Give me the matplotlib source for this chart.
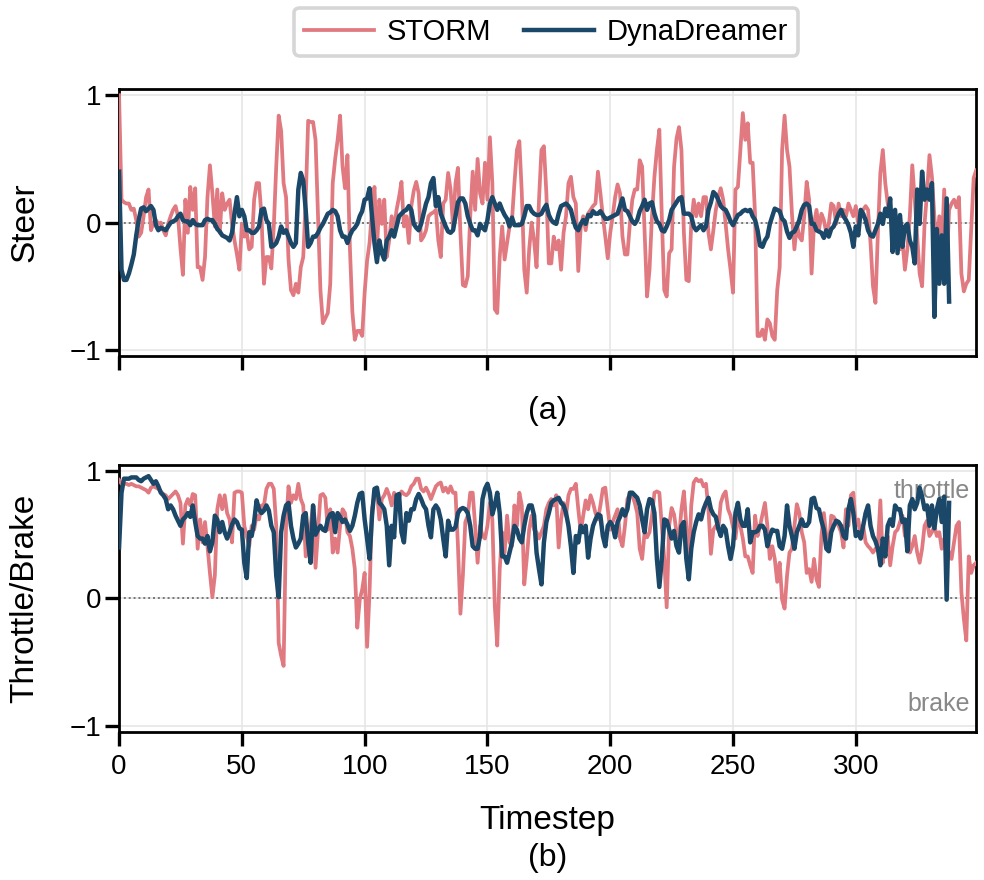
import numpy as np
import matplotlib
matplotlib.use("Agg")
import matplotlib.pyplot as plt

plt.rcParams['font.family'] = ['Liberation Sans', 'DejaVu Sans']

storm_color = '#e07a80'
dyna_color = '#1b4868'

# steering, STORM (timesteps 0..349)
storm_steer = [
    1.00, 0.18, 0.16, 0.15, 0.15, 0.10, 0.11, 0.02, -0.11, -0.08,
    0.05, 0.20, 0.26, -0.06, 0.00, 0.02, -0.01, 0.00, -0.06, -0.10,
    -0.01, 0.05, 0.10, 0.13, 0.05, -0.20, -0.41, 0.18, -0.08, 0.28,
    0.10, 0.27, -0.35, -0.35, -0.45, -0.27, 0.20, 0.45, 0.23, -0.03,
    0.26, -0.08, 0.23, 0.10, 0.15, 0.18, -0.01, -0.14, -0.25, -0.37,
    -0.01, -0.11, -0.08, -0.21, -0.19, 0.18, 0.31, 0.31, 0.05, -0.48,
    -0.27, -0.27, -0.36, -0.03, 0.44, 0.84, 0.72, 0.31, 0.20, -0.29,
    -0.53, -0.57, -0.48, -0.55, -0.35, -0.27, 0.18, 0.80, 0.79, 0.79,
    0.65, 0.05, -0.53, -0.79, -0.75, -0.71, -0.48, 0.31, 0.50, 0.65,
    0.84, 0.44, 0.27, 0.53, -0.20, -0.70, -0.92, -0.85, -0.85, -0.89,
    -0.55, -0.30, -0.16, 0.10, 0.28, -0.21, 0.18, -0.01, 0.18, -0.27,
    -0.14, 0.05, -0.06, 0.10, 0.20, 0.32, -0.03, 0.05, -0.16, 0.13,
    0.25, 0.32, 0.23, -0.14, -0.11, -0.06, 0.05, 0.07, 0.08, 0.10,
    -0.14, -0.27, 0.15, 0.18, 0.39, 0.26, -0.03, 0.31, 0.43, -0.08,
    -0.49, -0.50, -0.42, 0.05, 0.40, 0.10, 0.50, 0.23, 0.15, 0.47,
    0.18, 0.67, 0.31, -0.68, -0.71, -0.27, -0.03, -0.29, -0.16, -0.03,
    0.02, 0.31, 0.57, 0.64, 0.23, -0.37, -0.55, -0.21, 0.00, -0.14,
    -0.35, 0.18, 0.57, 0.60, 0.23, -0.32, -0.32, -0.11, -0.21, -0.14,
    -0.37, -0.08, 0.05, 0.31, 0.36, 0.20, 0.15, -0.38, -0.03, 0.05,
    -0.06, 0.07, 0.10, 0.13, 0.15, 0.40, 0.23, 0.05, -0.11, -0.28,
    -0.08, 0.05, 0.20, 0.30, 0.23, -0.11, -0.25, -0.25, -0.01, 0.18,
    0.26, 0.26, 0.49, 0.44, -0.08, -0.58, -0.37, 0.05, 0.36, 0.57,
    0.73, 0.05, -0.53, -0.58, -0.24, -0.21, 0.44, 0.66, 0.75, 0.57,
    -0.08, -0.45, -0.46, -0.01, 0.18, 0.05, 0.15, 0.05, 0.20, 0.20,
    -0.08, -0.21, -0.06, 0.10, 0.20, 0.27, 0.18, -0.01, -0.21, -0.37,
    -0.55, 0.26, 0.28, 0.57, 0.86, 0.65, 0.78, 0.47, 0.47, 0.05,
    -0.89, -0.89, -0.84, -0.92, -0.76, -0.79, -0.89, -0.92, -0.53, -0.35,
    0.57, 0.84, 0.57, 0.44, 0.07, -0.21, -0.01, -0.11, -0.14, 0.05,
    0.32, 0.18, -0.40, -0.01, 0.10, -0.06, 0.07, 0.02, -0.08, -0.01,
    0.15, 0.13, -0.01, 0.15, 0.05, 0.10, 0.05, 0.15, 0.10, 0.05,
    0.13, -0.01, 0.07, 0.10, 0.13, 0.10, -0.16, -0.50, -0.63, -0.08,
    0.39, 0.57, 0.31, 0.15, 0.05, 0.02, -0.08, -0.16, -0.21, -0.14,
    -0.37, -0.21, 0.05, 0.45, 0.18, -0.11, -0.40, -0.50, -0.01, 0.23,
    0.53, 0.36, 0.05, -0.21, 0.05, -0.21, 0.26, -0.35, 0.10, 0.15,
    0.18, 0.12, 0.20, -0.40, -0.54, -0.48, -0.45, -0.05, 0.35, 0.41,
]

# steering, DynaDreamer (timesteps 0..338)
dyna_steer = [
    0.40, -0.37, -0.45, -0.45, -0.40, -0.33, -0.25, -0.10, 0.02, 0.11,
    0.12, 0.09, 0.11, 0.13, 0.10, -0.02, -0.06, -0.04, -0.05, -0.06,
    -0.03, 0.00, 0.01, 0.02, 0.05, 0.07, 0.02, 0.01, 0.01, -0.02,
    0.02, -0.01, -0.02, -0.02, -0.02, 0.02, 0.03, 0.02, 0.02, -0.01,
    -0.05, -0.07, -0.10, -0.11, -0.12, -0.14, -0.08, 0.07, 0.20, 0.05,
    0.10, 0.05, -0.06, -0.06, -0.08, -0.08, -0.06, -0.03, 0.10, 0.11,
    0.02, -0.01, -0.19, -0.18, -0.16, -0.11, -0.03, -0.08, -0.06, -0.11,
    -0.16, -0.19, -0.16, 0.26, 0.39, 0.33, 0.10, -0.19, -0.16, -0.11,
    -0.11, -0.08, -0.04, -0.01, 0.03, 0.07, 0.08, 0.10, 0.09, 0.05,
    -0.06, -0.11, -0.11, -0.16, -0.10, -0.06, -0.04, -0.01, 0.05, 0.09,
    0.18, 0.19, 0.27, 0.05, -0.16, -0.31, -0.14, -0.24, -0.29, -0.14,
    -0.11, -0.06, -0.11, -0.03, 0.05, 0.07, 0.09, 0.10, 0.13, 0.10,
    -0.01, -0.04, -0.06, -0.01, 0.07, 0.15, 0.20, 0.31, 0.35, 0.13,
    0.20, 0.07, 0.02, -0.03, -0.07, -0.08, -0.06, 0.05, 0.16, 0.19,
    0.19, 0.15, 0.05, -0.01, -0.06, -0.06, -0.10, -0.01, -0.04, -0.06,
    0.02, 0.15, 0.20, 0.15, 0.10, 0.15, 0.10, 0.06, 0.03, -0.03,
    0.04, -0.02, -0.02, -0.02, -0.01, 0.05, 0.13, 0.13, 0.09, 0.07,
    0.06, 0.06, 0.07, 0.11, 0.14, 0.06, 0.02, 0.00, -0.01, 0.07,
    0.13, 0.14, 0.15, 0.13, 0.10, 0.02, -0.04, -0.06, -0.01, 0.02,
    -0.01, 0.06, 0.05, 0.09, 0.07, 0.07, 0.09, 0.06, 0.03, 0.03,
    0.04, 0.05, 0.06, 0.07, 0.13, 0.19, 0.10, 0.09, 0.05, 0.01,
    -0.01, 0.02, 0.09, 0.13, 0.18, 0.10, 0.15, 0.16, 0.07, 0.01,
    -0.01, -0.06, -0.07, -0.03, 0.02, 0.10, 0.13, 0.16, 0.19, 0.20,
    0.07, 0.07, 0.07, 0.05, -0.03, -0.06, -0.04, -0.02, -0.06, -0.03,
    0.10, 0.16, 0.24, 0.22, 0.18, 0.13, 0.11, 0.10, 0.06, 0.01,
    -0.02, 0.02, 0.06, 0.07, 0.09, 0.10, 0.09, 0.10, 0.05, 0.02,
    -0.06, -0.18, -0.19, -0.14, -0.11, -0.01, 0.05, 0.11, 0.10, 0.09,
    0.03, 0.01, -0.07, -0.12, -0.08, -0.07, -0.03, 0.02, 0.10, 0.14,
    0.15, 0.13, -0.01, -0.01, -0.06, -0.07, -0.08, -0.12, -0.06, -0.11,
    -0.05, -0.03, 0.02, 0.07, 0.10, 0.05, 0.02, -0.02, -0.08, -0.19,
    -0.03, -0.10, 0.10, 0.07, 0.02, -0.06, -0.10, -0.11, -0.06, -0.01,
    0.07, -0.01, 0.11, 0.05, 0.19, -0.23, 0.10, -0.24, 0.06, -0.19,
    -0.03, -0.01, -0.14, -0.19, -0.32, 0.26, -0.01, 0.40, 0.18, 0.26,
    0.18, 0.31, -0.74, -0.05, -0.48, -0.10, -0.48, 0.19, -0.62,
]

# throttle/brake, STORM (timesteps 0..349)
storm_throttle = [
    0.93, 0.90, 0.90, 0.90, 0.89, 0.90, 0.89, 0.88, 0.88, 0.87,
    0.86, 0.85, 0.83, 0.87, 0.88, 0.87, 0.86, 0.84, 0.82, 0.81,
    0.78, 0.80, 0.82, 0.84, 0.81, 0.75, 0.43, 0.73, 0.78, 0.73,
    0.82, 0.81, 0.39, 0.62, 0.44, 0.60, 0.41, 0.20, 0.01, 0.18,
    0.70, 0.81, 0.70, 0.81, 0.67, 0.62, 0.44, 0.83, 0.84, 0.84,
    0.83, 0.57, 0.49, 0.41, 0.57, 0.54, 0.65, 0.62, 0.73, 0.73,
    0.86, 0.90, 0.90, 0.86, 0.57, -0.35, -0.45, -0.53, 0.57, 0.88,
    0.75, 0.81, 0.78, 0.90, 0.78, 0.73, 0.33, 0.41, 0.57, 0.73,
    0.24, 0.52, 0.81, 0.82, 0.79, 0.54, 0.70, 0.36, 0.47, 0.36,
    0.57, 0.70, 0.67, 0.52, 0.49, 0.39, 0.23, -0.23, -0.01, 0.07,
    0.20, -0.38, 0.05, 0.70, 0.81, 0.84, 0.62, 0.78, 0.81, 0.86,
    0.81, 0.73, 0.83, 0.75, 0.79, 0.84, 0.82, 0.81, 0.83, 0.88,
    0.90, 0.94, 0.94, 0.86, 0.84, 0.87, 0.83, 0.78, 0.83, 0.88,
    0.90, 0.91, 0.84, 0.87, 0.83, 0.88, 0.83, 0.83, 0.41, -0.12,
    0.18, 0.60, 0.65, 0.83, 0.83, 0.57, 0.28, 0.57, 0.49, 0.47,
    0.57, 0.75, 0.62, -0.06, -0.37, 0.23, 0.52, 0.36, 0.65, 0.44,
    0.41, 0.73, 0.57, 0.83, 0.73, 0.11, 0.31, 0.54, 0.65, 0.54,
    0.52, 0.47, 0.52, 0.57, 0.70, 0.75, 0.78, 0.73, 0.81, 0.40,
    0.62, 0.75, 0.65, 0.81, 0.86, 0.86, 0.90, 0.70, 0.52, 0.65,
    0.77, 0.70, 0.81, 0.75, 0.67, 0.62, 0.73, 0.86, 0.87, 0.70,
    0.54, 0.60, 0.65, 0.70, 0.47, 0.41, 0.57, 0.78, 0.82, 0.81,
    0.75, 0.67, 0.39, 0.31, 0.52, 0.48, 0.52, 0.65, 0.83, 0.84,
    0.83, 0.57, 0.31, -0.07, 0.57, 0.71, 0.66, 0.52, 0.47, 0.70,
    0.84, 0.57, 0.23, 0.73, 0.91, 0.94, 0.92, 0.93, 0.88, 0.90,
    0.70, 0.35, 0.54, 0.57, 0.54, 0.75, 0.81, 0.84, 0.70, 0.65,
    0.56, 0.47, 0.65, 0.57, 0.47, 0.33, 0.33, 0.26, 0.20, 0.65,
    0.49, 0.57, 0.66, 0.75, 0.57, 0.31, 0.41, 0.31, 0.13, 0.28,
    -0.01, -0.08, 0.18, 0.36, 0.39, 0.57, 0.74, 0.67, 0.52, 0.44,
    0.20, 0.23, 0.13, 0.31, 0.15, 0.09, 0.49, 0.67, 0.49, 0.39,
    0.65, 0.64, 0.60, 0.57, 0.52, 0.40, 0.70, 0.57, 0.81, 0.83,
    0.57, 0.62, 0.49, 0.57, 0.44, 0.41, 0.39, 0.36, 0.39, 0.41,
    0.77, 0.28, 0.44, 0.49, 0.26, 0.41, 0.52, 0.54, 0.60, 0.65,
    0.49, 0.62, 0.36, 0.41, 0.49, 0.36, 0.28, 0.39, 0.57, 0.61,
    0.49, 0.52, 0.57, 0.49, 0.52, 0.39, 0.47, 0.41, 0.36, 0.31,
    0.44, 0.57, 0.60, 0.05, -0.16, -0.33, 0.33, 0.20, 0.26, 0.28,
]

# throttle/brake, DynaDreamer (timesteps 0..338)
dyna_throttle = [
    0.40, 0.83, 0.94, 0.94, 0.94, 0.95, 0.95, 0.95, 0.93, 0.92,
    0.94, 0.95, 0.96, 0.93, 0.90, 0.92, 0.88, 0.83, 0.81, 0.78,
    0.70, 0.73, 0.70, 0.65, 0.61, 0.57, 0.62, 0.64, 0.67, 0.64,
    0.73, 0.60, 0.49, 0.47, 0.47, 0.43, 0.49, 0.37, 0.44, 0.65,
    0.62, 0.52, 0.60, 0.52, 0.47, 0.52, 0.58, 0.62, 0.60, 0.55,
    0.54, 0.28, 0.16, 0.52, 0.49, 0.60, 0.77, 0.70, 0.67, 0.69,
    0.73, 0.69, 0.57, 0.52, 0.18, 0.01, 0.52, 0.65, 0.73, 0.75,
    0.57, 0.47, 0.40, 0.43, 0.47, 0.65, 0.67, 0.44, 0.28, 0.73,
    0.50, 0.54, 0.57, 0.54, 0.53, 0.62, 0.66, 0.67, 0.52, 0.67,
    0.64, 0.60, 0.62, 0.58, 0.53, 0.57, 0.65, 0.75, 0.82, 0.83,
    0.62, 0.47, 0.31, 0.65, 0.86, 0.87, 0.75, 0.73, 0.70, 0.57,
    0.26, 0.57, 0.48, 0.81, 0.82, 0.52, 0.44, 0.67, 0.61, 0.70,
    0.70, 0.78, 0.82, 0.78, 0.73, 0.70, 0.57, 0.48, 0.70, 0.73,
    0.70, 0.62, 0.47, 0.33, 0.61, 0.54, 0.54, 0.56, 0.67, 0.70,
    0.71, 0.70, 0.67, 0.57, 0.41, 0.39, 0.39, 0.49, 0.78, 0.86,
    0.90, 0.83, 0.66, 0.73, 0.83, 0.67, 0.33, 0.33, 0.28, 0.36,
    0.44, 0.57, 0.54, 0.47, 0.44, 0.57, 0.67, 0.73, 0.73, 0.65,
    0.36, 0.23, 0.11, 0.44, 0.60, 0.67, 0.75, 0.77, 0.78, 0.79,
    0.75, 0.73, 0.67, 0.57, 0.41, 0.20, 0.49, 0.44, 0.57, 0.52,
    0.57, 0.32, 0.47, 0.57, 0.62, 0.66, 0.65, 0.49, 0.41, 0.57,
    0.60, 0.57, 0.48, 0.60, 0.64, 0.70, 0.65, 0.70, 0.83, 0.83,
    0.81, 0.79, 0.73, 0.62, 0.52, 0.70, 0.78, 0.77, 0.67, 0.31,
    0.09, 0.31, 0.62, 0.61, 0.54, 0.47, 0.53, 0.41, 0.36, 0.57,
    0.60, 0.31, 0.15, 0.39, 0.52, 0.60, 0.66, 0.62, 0.70, 0.75,
    0.79, 0.70, 0.66, 0.64, 0.55, 0.49, 0.57, 0.54, 0.41, 0.31,
    0.41, 0.67, 0.75, 0.62, 0.57, 0.57, 0.70, 0.44, 0.52, 0.52,
    0.53, 0.57, 0.57, 0.54, 0.41, 0.49, 0.54, 0.53, 0.53, 0.41,
    0.39, 0.49, 0.73, 0.57, 0.49, 0.39, 0.52, 0.57, 0.62, 0.57,
    0.57, 0.60, 0.78, 0.79, 0.71, 0.70, 0.61, 0.54, 0.39, 0.37,
    0.52, 0.57, 0.61, 0.60, 0.57, 0.49, 0.47, 0.70, 0.78, 0.67,
    0.49, 0.52, 0.47, 0.57, 0.67, 0.73, 0.57, 0.49, 0.45, 0.39,
    0.26, 0.47, 0.33, 0.57, 0.62, 0.57, 0.73, 0.70, 0.70, 0.60,
    0.62, 0.37, 0.73, 0.78, 0.70, 0.75, 0.87, 0.80, 0.70, 0.73,
    0.57, 0.73, 0.55, 0.70, 0.78, 0.60, 0.80, -0.01, 0.75,
]

x_ticks = [0, 50, 100, 150, 200, 250, 300]
y_ticks = [-1, 0, 1]

fig, (ax1, ax2) = plt.subplots(2, 1, figsize=(4.92, 4.4), dpi=200)
fig.subplots_adjust(left=0.121, right=0.992, top=0.899, bottom=0.168, hspace=0.405)

panels = [
    (ax1, storm_steer, dyna_steer, "Steer"),
    (ax2, storm_throttle, dyna_throttle, "Throttle/Brake"),
]
for ax, s, d, lab in panels:
    ax.plot(np.arange(len(s)), s, color=storm_color, lw=1.35, label="STORM", zorder=3)
    ax.plot(np.arange(len(d)), d, color=dyna_color, lw=1.6, label="DynaDreamer", zorder=4)
    ax.axhline(0, color='#777777', lw=0.7, ls=(0, (1, 1.5)), zorder=2)
    ax.set_xlim(0, len(s) - 1)
    ax.set_ylim(-1.05, 1.05)
    ax.set_xticks(x_ticks)
    ax.set_yticks(y_ticks)
    ax.grid(True, color='#e6e6e6', lw=0.6, zorder=0)
    ax.set_axisbelow(True)
    ax.tick_params(direction='out', length=5, width=1.2, labelsize=10)
    ax.tick_params(axis='x', pad=3)
    ax.tick_params(axis='y', pad=1.5)
    for sp in ax.spines.values():
        sp.set_linewidth(1.0)
    ax.set_ylabel(lab, fontsize=12)
    ax.yaxis.set_label_coords(-0.092, 0.5)

ax1.tick_params(axis='x', labelbottom=False)
ax2.set_xlabel("Timestep", fontsize=12, labelpad=9)

ax1.text(0.5, -0.205, "(a)", transform=ax1.transAxes, ha='center', va='center', fontsize=11.5)
ax2.text(0.5, -0.47, "(b)", transform=ax2.transAxes, ha='center', va='center', fontsize=11.5)

ax2.text(0.993, 0.84, "throttle", transform=ax2.get_yaxis_transform(), ha='right', va='center',
         fontsize=9, color='#888888')
ax2.text(0.993, -0.83, "brake", transform=ax2.get_yaxis_transform(), ha='right', va='center',
         fontsize=9, color='#888888')

handles, labels = ax1.get_legend_handles_labels()
leg = fig.legend(handles, labels, loc='upper center', bbox_to_anchor=(0.555, 1.003), ncol=2,
                 fontsize=10.5, frameon=True, handlelength=2.4, columnspacing=1.1,
                 borderpad=0.35, handletextpad=0.45, borderaxespad=0.35)
leg.get_frame().set_edgecolor('#cccccc')
leg.get_frame().set_linewidth(1.3)

fig.savefig("out.png", dpi=200)
